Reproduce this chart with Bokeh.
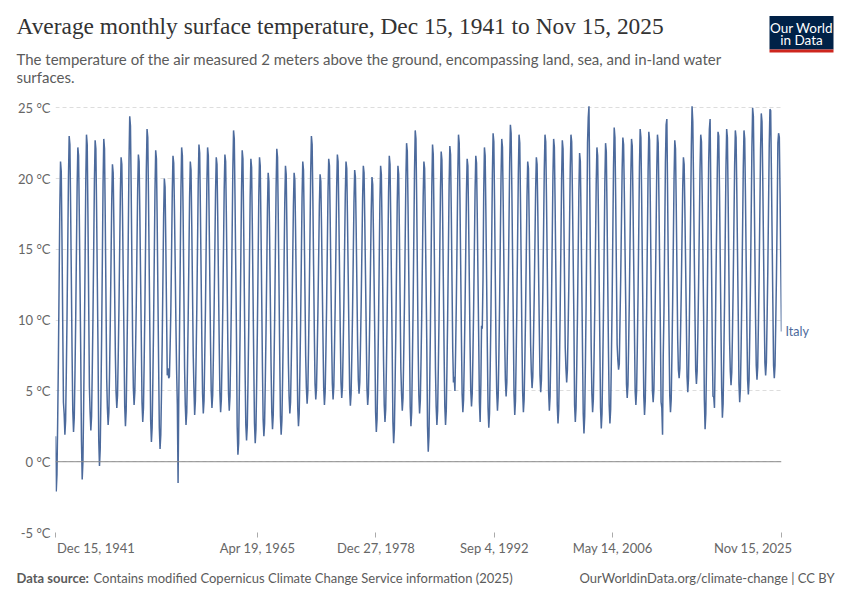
import pandas as pd
from bokeh.plotting import figure
from bokeh.models import Range1d, FixedTicker, Span, LinearAxis, ColumnDataSource
from bokeh.layouts import column
from bokeh.embed import file_html
from bokeh.resources import INLINE
from bokeh.core.properties import value

# ---------------- data (°C, monthly) ----------------
entity = "Italy"

t_1940s = [
    1.8,  # Dec 1941
    -2.1, -0.9, 2.6, 7.0, 12.3, 17.9, 21.2, 20.5, 15.6, 10.0, 4.2, 3.4,   # 1942
    1.9, 2.9, 6.1, 10.1, 15.0, 20.0, 23.0, 22.4, 17.9, 12.9, 7.6, 3.6,    # 1943
    2.1, 3.1, 6.1, 9.9, 14.6, 19.4, 22.2, 21.6, 17.4, 12.6, 7.5, 1.5,     # 1944
    -1.25, 0.0, 3.6, 8.2, 13.8, 19.7, 23.1, 22.4, 17.3, 11.4, 5.3, 3.5,   # 1945
    2.2, 3.2, 6.3, 10.2, 14.9, 19.8, 22.7, 22.1, 17.8, 12.9, 7.7, 1.5,    # 1946
    -0.3, 0.9, 4.3, 8.7, 14.0, 19.6, 22.8, 22.1, 17.3, 11.7, 5.9, 3.8,    # 1947
    2.6, 3.5, 6.3, 9.8, 14.0, 18.4, 21.0, 20.4, 16.6, 12.2, 7.6, 4.9,     # 1948
    3.8, 4.7, 7.3, 10.7, 14.8, 19.0, 21.5, 21.0, 17.3, 13.0, 8.6, 3.9,    # 1949
]
t_1950s = [
    2.5, 3.6, 6.9, 11.0, 16.1, 21.3, 24.4, 23.7, 19.1, 13.9, 8.4, 5.2,    # 1950
    4.0, 4.9, 7.5, 10.9, 15.0, 19.2, 21.7, 21.2, 17.5, 13.2, 8.8, 4.2,    # 1951
    2.8, 3.8, 7.0, 10.9, 15.6, 20.6, 23.5, 22.9, 18.5, 13.6, 8.4, 2.9,    # 1952
    1.4, 2.4, 5.5, 9.4, 14.2, 19.1, 22.0, 21.4, 17.1, 12.1, 7.0, 2.4,     # 1953
    0.9, 1.9, 4.7, 8.3, 12.7, 17.3, 20.0, 19.4, 15.4, 10.8, 6.1, 6.6,     # 1954
    5.9, 6.0, 8.0, 10.6, 14.6, 19.0, 21.6, 21.1, 17.8, 14.1, 9.8, 6.5,    # 1955
    4.0, -1.5, 4.5, 8.8, 13.9, 19.2, 22.2, 21.6, 17.5, 12.3, 6.7, 4.0,    # 1956
    2.6, 3.5, 6.3, 9.9, 14.1, 18.6, 21.2, 20.6, 16.7, 12.3, 7.6, 5.2,     # 1957
    3.3, 4.3, 7.1, 10.7, 15.1, 19.7, 22.4, 21.8, 17.8, 13.2, 8.5, 4.8,    # 1958
    3.4, 4.3, 7.2, 10.7, 15.1, 19.6, 22.2, 21.6, 17.7, 13.2, 8.5, 5.0,    # 1959
]
t_1960s = [
    3.8, 4.7, 7.3, 10.7, 14.8, 19.0, 21.5, 21.0, 17.3, 13.0, 8.6, 4.9,    # 1960
    3.5, 4.4, 7.1, 10.6, 14.8, 19.2, 21.7, 21.2, 17.3, 13.0, 8.4, 4.8,    # 1961
    3.6, 4.6, 7.6, 11.3, 15.9, 20.6, 23.4, 22.8, 18.6, 13.9, 8.9, 2.5,    # 1962
    0.5, 1.3, 4.8, 8.9, 13.8, 19.0, 22.0, 21.4, 16.8, 11.7, 6.3, 2.6,     # 1963
    1.5, 2.5, 5.5, 9.3, 13.8, 18.6, 21.4, 20.8, 16.6, 11.8, 6.9, 2.7,     # 1964
    1.3, 2.3, 5.3, 9.2, 13.8, 18.7, 21.5, 20.9, 16.7, 11.8, 6.8, 3.0,     # 1965
    1.8, 2.7, 5.5, 9.1, 13.3, 17.8, 20.4, 19.8, 15.9, 11.5, 6.8, 3.5,     # 1966
    2.3, 3.3, 6.3, 10.0, 14.6, 19.3, 22.1, 21.5, 17.3, 12.6, 7.6, 3.2,    # 1967
    1.9, 2.9, 5.7, 9.3, 13.7, 18.2, 20.9, 20.3, 16.3, 11.8, 7.0, 4.6,     # 1968
    3.4, 4.2, 6.8, 10.0, 14.0, 18.0, 20.4, 19.9, 16.3, 12.2, 8.0, 3.8,    # 1969
]
t_1970s = [
    2.5, 3.4, 6.2, 9.8, 14.1, 18.6, 21.2, 20.6, 16.7, 12.2, 7.5, 5.2,     # 1970
    4.1, 5.0, 7.9, 11.5, 15.8, 20.4, 23.0, 22.4, 18.5, 13.9, 9.2, 5.5,    # 1971
    4.4, 5.2, 7.6, 10.6, 14.3, 18.1, 20.3, 19.8, 16.5, 12.7, 8.7, 5.2,    # 1972
    4.0, 4.9, 7.5, 10.8, 14.8, 19.0, 21.4, 20.9, 17.2, 13.0, 8.7, 5.5,    # 1973
    4.4, 5.3, 7.9, 11.1, 15.1, 19.3, 21.7, 21.2, 17.5, 13.4, 9.1, 5.6,    # 1974
    4.5, 5.3, 7.8, 11.0, 14.9, 18.9, 21.2, 20.7, 17.2, 13.2, 9.0, 5.1,    # 1975
    3.95, 4.8, 7.3, 10.4, 14.3, 18.3, 20.6, 20.1, 16.6, 12.6, 8.4, 5.8,   # 1976
    4.8, 5.6, 8.0, 11.1, 14.8, 18.6, 20.9, 20.4, 17.0, 13.2, 9.1, 5.2,    # 1977
    4.0, 4.8, 7.2, 10.3, 14.0, 17.8, 20.1, 19.6, 16.2, 12.4, 8.3, 3.5,    # 1978
    2.1, 3.0, 5.9, 9.4, 13.8, 18.3, 20.9, 20.3, 16.4, 11.9, 7.2, 4.0,     # 1979
]
t_1980s = [
    2.8, 3.7, 6.6, 10.1, 14.5, 19.0, 21.6, 21.0, 17.1, 12.6, 7.9, 2.8,    # 1980
    1.3, 2.3, 5.2, 8.9, 13.5, 18.2, 20.9, 20.3, 16.2, 11.5, 6.6, 4.8,     # 1981
    3.6, 4.5, 7.4, 11.0, 15.3, 19.9, 22.5, 21.9, 18.0, 13.4, 8.7, 3.9,    # 1982
    2.5, 3.5, 6.7, 10.7, 15.5, 20.5, 23.4, 22.8, 18.4, 13.4, 8.1, 4.7,    # 1983
    3.4, 4.3, 7.0, 10.3, 14.4, 18.7, 21.2, 20.7, 16.9, 12.7, 8.2, 2.5,    # 1984
    0.7, 1.8, 5.0, 9.2, 14.2, 19.4, 22.4, 21.7, 17.2, 12.0, 6.6, 3.9,     # 1985
    2.6, 3.6, 6.5, 10.1, 14.6, 19.2, 21.9, 21.3, 17.3, 12.6, 7.8, 3.9,    # 1986
    2.6, 3.6, 6.5, 10.3, 14.8, 19.5, 22.3, 21.7, 17.6, 12.8, 7.9, 5.6,    # 1987
    6.0, 5.0, 7.8, 11.3, 15.5, 20.2, 23.1, 22.5, 18.5, 13.9, 8.9, 4.8,    # 1988
    3.5, 4.4, 7.1, 10.5, 14.6, 18.9, 21.4, 20.9, 17.1, 12.8, 8.3, 5.0,    # 1989
]
t_1990s = [
    3.9, 4.8, 7.4, 10.8, 14.9, 19.1, 21.6, 21.1, 17.4, 13.1, 8.7, 4.2,    # 1990
    2.8, 5.5, 9.6, 9.4, 12.8, 19.0, 22.2, 21.6, 17.5, 12.9, 8.0, 3.8,     # 1991
    2.4, 3.4, 6.6, 10.5, 15.3, 20.3, 23.2, 22.6, 18.2, 13.2, 8.0, 4.9,    # 1992
    3.6, 4.6, 7.4, 11.1, 15.5, 20.1, 22.8, 22.2, 18.2, 13.6, 8.8, 5.8,    # 1993
    4.6, 5.6, 8.4, 12.1, 16.5, 21.1, 23.8, 23.2, 19.2, 14.6, 9.8, 4.8,    # 1994
    3.3, 4.3, 7.3, 11.0, 15.6, 20.3, 23.1, 22.5, 18.3, 13.6, 8.6, 4.9,    # 1995
    3.5, 4.4, 7.0, 10.4, 14.5, 18.7, 21.2, 20.7, 17.0, 12.7, 8.3, 6.3,    # 1996
    5.2, 6.0, 8.5, 11.6, 15.3, 19.2, 21.5, 21.0, 17.6, 13.7, 9.6, 6.1,    # 1997
    4.9, 5.8, 8.5, 12.0, 16.2, 20.6, 23.1, 22.6, 18.7, 14.4, 9.8, 4.9,    # 1998
    3.6, 4.6, 7.4, 11.1, 15.5, 20.1, 22.8, 22.2, 18.2, 13.6, 8.8, 4.0,    # 1999
]
t_2000s = [
    2.7, 3.7, 6.7, 10.5, 15.1, 19.9, 22.7, 22.1, 17.9, 13.1, 8.1, 6.6,    # 2000
    5.6, 6.5, 9.1, 12.4, 16.5, 20.7, 23.1, 22.6, 18.9, 14.7, 10.3, 4.0,   # 2001
    2.8, 3.8, 6.6, 10.2, 14.6, 19.1, 21.8, 21.2, 17.2, 12.7, 7.9, 3.4,    # 2002
    2.0, 3.2, 6.6, 11.0, 16.3, 22.5, 24.3, 25.1, 19.6, 14.0, 8.2, 4.8,    # 2003
    3.5, 4.4, 7.2, 10.8, 15.1, 19.6, 22.2, 21.6, 17.7, 13.2, 8.5, 3.8,    # 2004
    2.35, 3.4, 6.4, 10.2, 14.8, 19.7, 22.5, 21.9, 17.7, 12.8, 7.8, 4.0,   # 2005
    2.7, 3.7, 6.9, 10.8, 15.7, 20.7, 23.6, 22.9, 18.6, 13.6, 8.3, 7.2,    # 2006
    6.5, 6.9, 9.8, 12.9, 16.7, 20.6, 22.9, 22.4, 19.0, 15.0, 10.9, 5.5,   # 2007
    4.5, 5.4, 8.2, 11.6, 15.8, 20.2, 22.8, 22.3, 18.4, 14.0, 9.4, 5.0,    # 2008
    4.0, 5.0, 7.9, 11.6, 16.1, 20.8, 23.5, 22.9, 18.8, 14.1, 9.3, 4.6,    # 2009
]
t_2010s = [
    3.3, 4.3, 7.3, 11.1, 15.7, 20.5, 23.3, 22.7, 18.5, 13.7, 8.7, 5.0,    # 2010
    4.2, 5.1, 8.0, 11.6, 15.9, 20.5, 23.1, 22.5, 18.6, 14.0, 9.3, 4.2,    # 2011
    3.8, 1.9, 7.5, 10.6, 15.7, 21.1, 23.8, 24.2, 19.0, 13.6, 8.9, 4.7,    # 2012
    3.5, 4.4, 7.3, 11.0, 15.4, 20.0, 22.7, 22.1, 18.1, 13.5, 8.7, 6.5,    # 2013
    5.9, 6.6, 9.0, 12.0, 15.6, 19.3, 21.5, 21.0, 17.8, 14.0, 10.1, 6.0,   # 2014
    4.9, 5.9, 8.9, 12.8, 17.4, 22.3, 25.1, 24.0, 19.8, 14.9, 10.4, 6.5,   # 2015
    5.5, 6.4, 9.0, 12.4, 16.4, 20.6, 23.1, 22.6, 18.9, 14.7, 10.3, 4.4,   # 2016
    2.3, 3.4, 6.7, 10.8, 15.9, 21.1, 23.5, 24.2, 18.9, 13.7, 8.2, 4.6,    # 2017
    4.6, 3.8, 7.0, 12.4, 16.3, 20.6, 23.3, 23.0, 19.2, 14.6, 9.8, 5.2,    # 2018
    3.1, 4.1, 7.2, 11.1, 15.8, 20.7, 23.5, 22.9, 18.6, 13.7, 8.6, 6.4,    # 2019
]
t_2020s = [
    5.4, 6.3, 9.0, 12.4, 16.6, 20.9, 23.4, 22.9, 19.1, 14.8, 10.3, 5.5,   # 2020
    4.2, 5.2, 8.0, 11.7, 16.1, 20.7, 23.4, 22.8, 18.8, 14.2, 9.4, 5.8,    # 2021
    4.75, 5.8, 8.8, 12.6, 17.3, 22.2, 25.0, 24.4, 20.1, 15.3, 10.2, 6.8,  # 2022
    5.8, 6.7, 9.6, 13.1, 17.5, 22.0, 24.6, 24.0, 20.1, 15.6, 10.9, 7.0,   # 2023
    6.1, 7.0, 9.9, 13.4, 17.8, 22.3, 24.9, 24.8, 20.4, 15.9, 11.2, 6.8,   # 2024
    5.9, 6.8, 9.6, 13.0, 17.2, 22.5, 23.2, 22.9, 18.9, 14.2, 9.2,         # 2025 (to Nov)
]

y_ticks = [-5, 0, 5, 10, 15, 20, 25]
x_tick_dates = ["1941-12-15", "1965-04-19", "1978-12-27", "1992-09-04", "2006-05-14", "2025-11-15"]
x_tick_labels = ["Dec 15, 1941", "Apr 19, 1965", "Dec 27, 1978", "Sep 4, 1992", "May 14, 2006", "Nov 15, 2025"]

title_text = "Average monthly surface temperature, Dec 15, 1941 to Nov 15, 2025"
subtitle_1 = "The temperature of the air measured 2 meters above the ground, encompassing land, sea, and in-land water"
subtitle_2 = "surfaces."
source_bold = "Data source:"
source_text = "Contains modified Copernicus Climate Change Service information (2025)"
credit_text = "OurWorldinData.org/climate-change | CC BY"

# ---------------- build ----------------
temps = t_1940s + t_1950s + t_1960s + t_1970s + t_1980s + t_1990s + t_2000s + t_2010s + t_2020s
dates = pd.date_range("1941-12-01", periods=len(temps), freq="MS") + pd.Timedelta(days=14)
src = ColumnDataSource(dict(date=dates, temp=temps))


def ms(d):
    return pd.Timestamp(d).value / 1e6


x0, x1 = ms(dates[0]), ms(dates[-1])
tick_ms = [ms(d) for d in x_tick_dates]

W = 850
LINE = "#4c6a9c"
GREY = "#666666"
SANS = "Lato"
NB = "\u00a0"

# header (page pixels: y 0..96)
HH = 96
h = figure(width=W, height=HH, x_range=Range1d(0, W), y_range=Range1d(HH, 0),
           output_backend="svg", toolbar_location=None, title=None, min_border=0,
           frame_align=False)
h.axis.visible = False
h.grid.visible = False
h.outline_line_color = None
h.text(x=[16], y=[25], text=[title_text], text_font=value("Liberation Serif"),
       text_font_size="23.4px", text_color="#333333", text_baseline="middle")
h.text(x=[16, 16], y=[58, 76], text=[subtitle_1, subtitle_2], text_font=value(SANS),
       text_font_size="15px", text_color="#5b5b5b", text_baseline="middle")
h.rect(x=[801], y=[32.3], width=64, height=33.5, fill_color="#002147", line_color=None)
h.rect(x=[801], y=[50.5], width=64, height=3, fill_color="#ce261e", line_color=None)
h.text(x=[801, 801], y=[27, 39.5], text=["Our World", "in Data"], text_font=value(SANS),
       text_font_size="13.5px", text_color="white", text_align="center", text_baseline="middle")

# main plot (page pixels: y 96..560)
p = figure(width=W, height=464, x_range=Range1d(x0, x1), y_range=Range1d(-5, 25.3),
           x_axis_type="datetime", output_backend="svg", toolbar_location=None, title=None,
           min_border_left=55, min_border_right=69, min_border_top=7, min_border_bottom=28)
p.outline_line_color = None
p.xgrid.visible = False
p.ygrid.ticker = FixedTicker(ticks=y_ticks)
p.ygrid.grid_line_color = "#dddddd"
p.ygrid.grid_line_dash = "4 3"

p.yaxis.ticker = FixedTicker(ticks=y_ticks)
p.yaxis.major_label_overrides = {t: f"{t} °C" for t in y_ticks}
p.yaxis.axis_line_color = None
p.yaxis.major_tick_line_color = None
p.yaxis.major_tick_out = 0
p.yaxis.major_tick_in = 0
p.yaxis.minor_tick_line_color = None
p.yaxis.major_label_text_font = SANS
p.yaxis.major_label_text_font_size = "13px"
p.yaxis.major_label_text_color = GREY
p.yaxis.major_label_standoff = 5

p.xaxis.ticker = FixedTicker(ticks=tick_ms)
overrides = {t: l for t, l in zip(tick_ms, x_tick_labels)}
# first label sits to the right of its tick, last one to the left (as in the original)
overrides[tick_ms[0]] = NB * 17 + x_tick_labels[0]
overrides[tick_ms[-1]] = x_tick_labels[-1] + NB * 17
p.xaxis.major_label_overrides = overrides
p.xaxis.axis_line_color = None
p.xaxis.major_tick_line_color = "#aaaaaa"
p.xaxis.major_tick_out = 5
p.xaxis.major_tick_in = 0
p.xaxis.minor_tick_line_color = None
p.xaxis.major_label_text_font = SANS
p.xaxis.major_label_text_font_size = "13px"
p.xaxis.major_label_text_color = GREY
p.xaxis.major_label_standoff = 2

# series name at the line's end, as a right-hand axis label
name_axis = LinearAxis(ticker=FixedTicker(ticks=[temps[-1]]),
                       major_label_overrides={temps[-1]: entity})
name_axis.axis_line_color = None
name_axis.major_tick_line_color = None
name_axis.major_tick_out = 0
name_axis.major_tick_in = 0
name_axis.minor_tick_line_color = None
name_axis.major_label_standoff = 4
name_axis.major_label_text_font = SANS
name_axis.major_label_text_font_size = "12.5px"
name_axis.major_label_text_color = LINE
p.add_layout(name_axis, "right")

p.add_layout(Span(location=0, dimension="width", line_color="#8c8c8c", line_width=1))
p.line(x="date", y="temp", source=src, line_color=LINE, line_width=1.5)

# footer (page pixels: y 560..600)
FH = 40
f = figure(width=W, height=FH, x_range=Range1d(0, W), y_range=Range1d(FH, 0),
           output_backend="svg", toolbar_location=None, title=None, min_border=0,
           frame_align=False)
f.axis.visible = False
f.grid.visible = False
f.outline_line_color = None
f.text(x=[16], y=[17], text=[source_bold], text_font=value(SANS), text_font_style="bold",
       text_font_size="13px", text_color="#5b5b5b", text_baseline="middle")
f.text(x=[93], y=[17], text=[source_text], text_font=value(SANS),
       text_font_size="13px", text_color="#5b5b5b", text_baseline="middle")
f.text(x=[834], y=[17], text=[credit_text], text_font=value(SANS), text_align="right",
       text_font_size="13px", text_color="#5b5b5b", text_baseline="middle")

layout = column(h, p, f, spacing=0)
open("out.html", "w").write(file_html(layout, INLINE))
